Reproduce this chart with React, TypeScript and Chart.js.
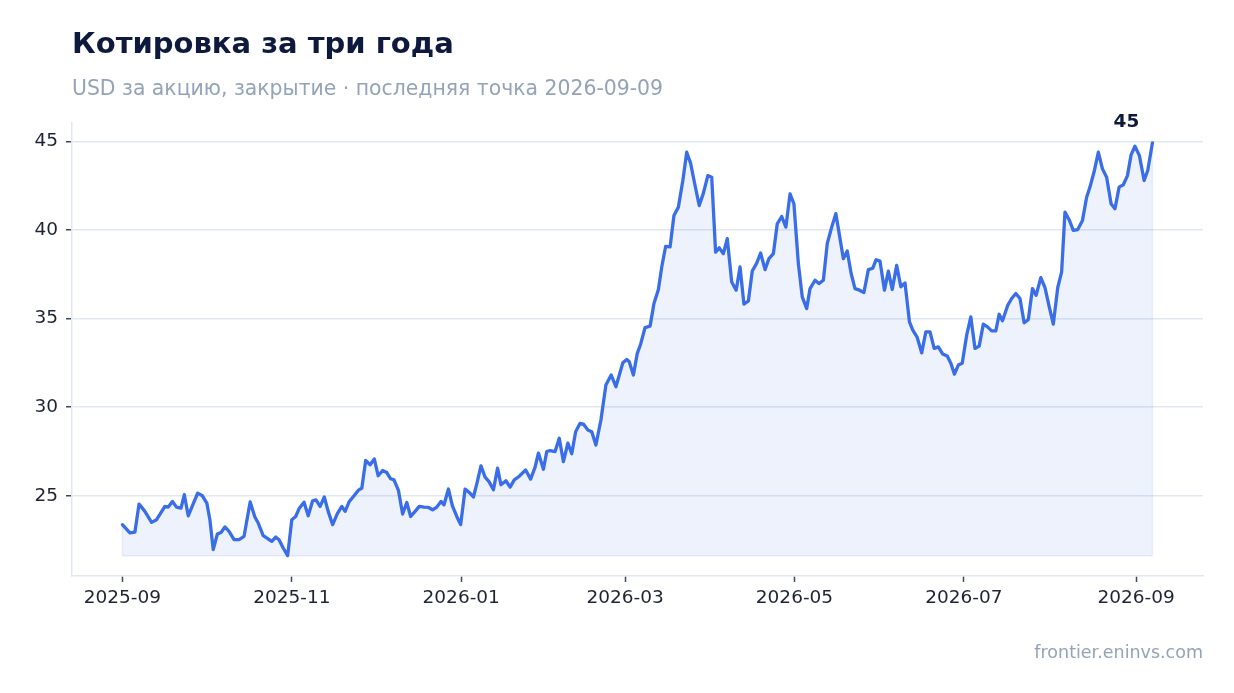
// Котировка за три года — closing price line with light area fill
import { useEffect, useRef } from 'react';
import { Chart, registerables } from 'chart.js';
Chart.register(...registerables);

const START = '2025-09-01';

// days since START
const DAY = [
  0, 2.7, 4.5, 6, 8.1, 10.5, 12.3, 15.3, 16.5, 18, 19.5, 21.1, 22.3, 23.7, 27.1, 28.8, 30.4, 31.5, 32.7, 34.2,
  35.5, 36.9, 38.4, 40.2, 42, 43.8, 46, 47.7, 48.9, 50.7, 52.5, 53.8, 55.2, 56.4, 57.9, 59.5, 61, 62.4, 63.7, 65.4,
  66.9, 68.5, 69.7, 71.2, 72.7, 74.1, 75.7, 77.4, 79, 80.2, 81.7, 83.4, 84.9, 86.2, 87.6, 89.2, 90.7, 92.1, 93.7, 95.2,
  96.6, 97.8, 99.4, 100.9, 102.4, 103.8, 105.4, 106.9, 108.6, 110.2, 111.7, 113.2, 114.7, 115.8, 117.4, 118.8, 120.4, 121.8, 123.4, 124.9,
  126.4, 127.8, 129.1, 130.6, 132, 133.6, 135.1, 136.3, 138.1, 139.6, 141.1, 142.8, 145.2, 147, 148.6, 149.8, 151.6, 152.8, 154, 155.8,
  157.3, 158.8, 160.4, 161.8, 163.2, 164.8, 166, 167.6, 169, 170.5, 172.3, 174.1, 176, 177.7, 180.2, 181.6, 182.5, 184, 185.4, 186.6,
  188.2, 190, 191.4, 193, 194.2, 195.6, 197.2, 198.6, 200.2, 201.8, 203.2, 204.6, 206.2, 207.7, 209.2, 210.8, 212.2, 213.6, 214.9, 216.4,
  217.8, 219.4, 221, 222.4, 223.8, 225.4, 226.8, 228.4, 229.8, 231.4, 232.8, 234.4, 235.8, 237.4, 238.9, 240.4, 241.8, 243.4, 244.8, 246.4,
  247.6, 249.4, 250.8, 252.4, 253.8, 255.4, 256.9, 258.4, 259.6, 261, 262.4, 263.8, 265.4, 267, 268.6, 270.2, 271.4, 272.8, 274.4, 275.8,
  277.2, 278.8, 280.3, 281.8, 283.4, 284.6, 286.2, 287.8, 289.3, 290.8, 292.3, 293.8, 295.4, 297, 298.3, 299.6, 301, 302.4, 304, 305.5,
  307, 308.5, 310, 311.5, 313, 314.5, 315.7, 316.9, 318.8, 320.2, 321.7, 323.2, 324.7, 326.2, 327.7, 329, 330.7, 332.2, 333.7, 335.2,
  336.8, 338.2, 339.4, 340.9, 342.4, 344, 345.7, 347.2, 348.4, 350, 351.4, 352.9, 354.4, 356, 357.4, 358.9, 360.4, 361.9, 363.2, 364.6,
  366.2, 367.9, 369.2, 370.9,
];

const CLOSE = [
  23.37, 22.9, 22.95, 24.53, 24.12, 23.5, 23.65, 24.4, 24.36, 24.68, 24.36, 24.3, 25.06, 23.87, 25.15, 25.0, 24.59, 23.65, 21.96, 22.84,
  22.93, 23.24, 22.99, 22.52, 22.52, 22.71, 24.65, 23.8, 23.46, 22.75, 22.56, 22.43, 22.67, 22.52, 22.05, 21.62, 23.65, 23.83, 24.3, 24.64,
  23.87, 24.72, 24.77, 24.4, 24.93, 24.12, 23.37, 23.99, 24.4, 24.12, 24.68, 25.0, 25.3, 25.43, 26.99, 26.75, 27.08, 26.13, 26.43, 26.31,
  25.96, 25.9, 25.3, 23.97, 24.62, 23.83, 24.12, 24.4, 24.36, 24.34, 24.21, 24.36, 24.68, 24.49, 25.38, 24.44, 23.83, 23.37, 25.38, 25.19,
  24.93, 25.8, 26.69, 26.05, 25.8, 25.34, 26.56, 25.62, 25.85, 25.49, 25.9, 26.09, 26.46, 25.94, 26.62, 27.41, 26.5, 27.5, 27.55, 27.5,
  28.25, 26.93, 27.97, 27.37, 28.62, 29.09, 29.05, 28.72, 28.62, 27.87, 29.28, 31.25, 31.82, 31.16, 32.51, 32.7, 32.57, 31.82, 33.04, 33.56,
  34.5, 34.58, 35.86, 36.65, 37.92, 39.08, 39.05, 40.83, 41.3, 42.8, 44.4, 43.78, 42.52, 41.39, 42.09, 43.08, 42.99, 38.76, 39.0, 38.67,
  39.52, 37.07, 36.61, 37.92, 35.82, 36.0, 37.69, 38.14, 38.71, 37.77, 38.39, 38.67, 40.36, 40.77, 40.17, 42.05, 41.49, 38.11, 36.23, 35.57,
  36.7, 37.17, 36.98, 37.17, 39.24, 40.17, 40.93, 39.52, 38.39, 38.82, 37.55, 36.7, 36.61, 36.48, 37.77, 37.85, 38.33, 38.25, 36.61, 37.69,
  36.65, 38.01, 36.8, 37.02, 34.82, 34.35, 33.94, 33.07, 34.26, 34.26, 33.32, 33.41, 33.0, 32.89, 32.48, 31.87, 32.38, 32.48, 34.07, 35.1,
  33.32, 33.45, 34.69, 34.54, 34.31, 34.31, 35.25, 34.88, 35.76, 36.14, 36.42, 36.14, 34.77, 34.95, 36.7, 36.32, 37.32, 36.76, 35.7, 34.69,
  36.76, 37.64, 41.02, 40.59, 39.99, 40.03, 40.55, 41.86, 42.43, 43.37, 44.4, 43.46, 42.99, 41.49, 41.21, 42.43, 42.56, 43.08, 44.25, 44.74,
  44.21, 42.8, 43.37, 44.93,
];

const TICK_MONTHS = ['2025-09', '2025-11', '2026-01', '2026-03', '2026-05', '2026-07', '2026-09'];
const Y_TICKS = [25, 30, 35, 40, 45];

const FONT = '"DejaVu Sans", "Noto Sans", sans-serif';
const LINE = '#3a6de8';

function dayOf(month: string) {
  const [y, m] = month.split('-').map(Number);
  const s = new Date(START + 'T00:00:00Z').getTime();
  return (Date.UTC(y, m - 1, 1) - s) / 86400000;
}

const FILL_BASE = Math.min(...CLOSE);

// faint outline around the filled area + label over last point
const decor = {
  id: 'decor',
  beforeDatasetsDraw(chart: any) {
    const pts = chart.getDatasetMeta(0).data;
    if (!pts.length) return;
    const base = chart.scales.y.getPixelForValue(FILL_BASE);
    const ctx = chart.ctx;
    ctx.save();
    ctx.beginPath();
    ctx.moveTo(pts[0].x, base);
    pts.forEach((p: any) => ctx.lineTo(p.x, p.y));
    ctx.lineTo(pts[pts.length - 1].x, base);
    ctx.closePath();
    ctx.strokeStyle = 'rgba(58,109,230,0.10)';
    ctx.lineWidth = 1.5;
    ctx.stroke();
    ctx.restore();
  },
  afterDatasetsDraw(chart: any) {
    const pts = chart.getDatasetMeta(0).data;
    const last = pts[pts.length - 1];
    if (!last) return;
    const ctx = chart.ctx;
    ctx.save();
    ctx.font = `bold 18.5px ${FONT}`;
    ctx.fillStyle = '#0d1a3e';
    ctx.textAlign = 'center';
    ctx.textBaseline = 'middle';
    ctx.fillText(String(Math.round(CLOSE[CLOSE.length - 1])), last.x - 26, last.y - 21);
    ctx.restore();
  },
};

function PriceChart() {
  const ref = useRef<HTMLCanvasElement>(null);
  const ci = useRef<Chart | null>(null);

  useEffect(() => {
    const canvas = ref.current;
    if (!canvas) return;
    ci.current?.destroy();

    ci.current = new Chart(canvas, {
      type: 'line',
      data: {
        datasets: [{
          data: DAY.map((d, i) => ({ x: d, y: CLOSE[i] })),
          borderColor: LINE,
          borderWidth: 3.3,
          borderJoinStyle: 'round',
          borderCapStyle: 'round',
          backgroundColor: 'rgba(58,109,232,0.09)',
          fill: { value: FILL_BASE },
          pointRadius: 0,
          tension: 0,
        }],
      },
      options: {
        responsive: false,
        animation: false,
        layout: { padding: { top: 123, right: 31, bottom: 0, left: 0 } },
        plugins: { legend: { display: false }, tooltip: { enabled: false } },
        scales: {
          x: {
            type: 'linear',
            min: -18.15,
            max: 389.1,
            afterFit: (s: any) => { s.height = 117; },
            afterBuildTicks: (s: any) => { s.ticks = TICK_MONTHS.map(m => ({ value: dayOf(m) })); },
            border: { display: true, color: '#e2e8f0', width: 1.5 },
            grid: { drawOnChartArea: false, drawTicks: true, tickLength: 6, tickColor: '#3f4654', tickWidth: 1.5 },
            ticks: {
              padding: 5,
              maxRotation: 0,
              autoSkip: false,
              color: '#1e2433',
              font: { family: FONT, size: 18.5 },
              callback: (_v: any, i: number) => TICK_MONTHS[i],
            },
          },
          y: {
            min: 20.47,
            max: 46.05,
            afterFit: (s: any) => { s.width = 72; },
            afterBuildTicks: (s: any) => { s.ticks = Y_TICKS.map(v => ({ value: v })); },
            border: { display: true, color: '#e2e8f0', width: 1.5 },
            grid: { color: '#e2e8f0', lineWidth: 1.5, drawTicks: true, tickLength: 6, tickColor: '#3f4654', tickWidth: 1.5 },
            ticks: {
              padding: 8,
              color: '#1e2433',
              font: { family: FONT, size: 18.5 },
              callback: (v: any) => String(v),
            },
          },
        },
      },
      plugins: [decor],
    });

    return () => { ci.current?.destroy(); ci.current = null; };
  }, []);

  return <canvas ref={ref} width={1234} height={693} style={{ position: 'absolute', left: 0, top: 0, display: 'block' }}/>;
}

export default function App() {
  return (
    <div style={{ position: 'absolute', left: 0, top: 0, width: 1234, height: 693, background: '#fff', fontFamily: FONT }}>
      <PriceChart/>
      <div style={{ position: 'absolute', left: 72, top: 29, fontSize: 29, lineHeight: '29px', fontWeight: 'bold', color: '#0d1a3e', whiteSpace: 'nowrap' }}>
        Котировка за три года
      </div>
      <div style={{ position: 'absolute', left: 72, top: 78, fontSize: 20.4, lineHeight: '20.4px', color: '#94a3b8', whiteSpace: 'nowrap' }}>
        USD за акцию, закрытие · последняя точка 2026-09-09
      </div>
      <div style={{ position: 'absolute', right: 31, top: 644, fontSize: 17.5, lineHeight: '17.5px', color: '#94a3b8', whiteSpace: 'nowrap' }}>
        frontier.eninvs.com
      </div>
    </div>
  );
}
